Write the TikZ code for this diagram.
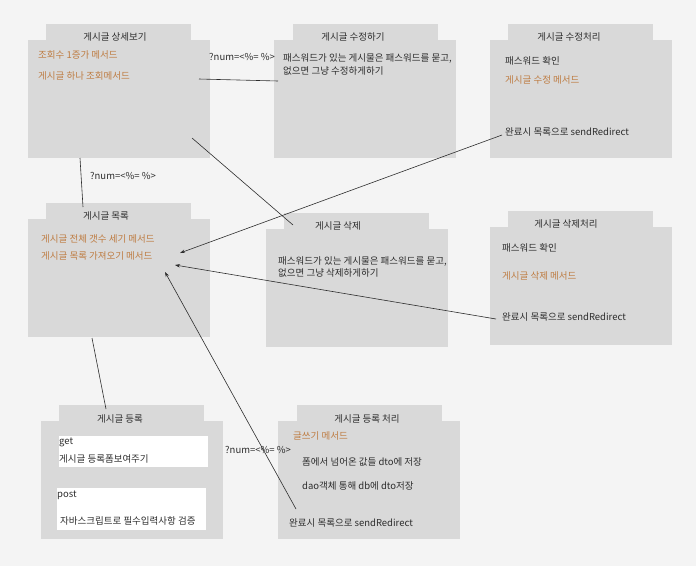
\documentclass[tikz,border=0pt]{standalone}
\usepackage{fontspec}
\setmainfont{Noto Sans CJK KR}
\usetikzlibrary{arrows.meta}
\definecolor{bg}{RGB}{244,244,244}
\definecolor{boxgray}{RGB}{217,217,217}
\definecolor{methodcol}{RGB}{190,124,66}
\definecolor{ink}{RGB}{45,45,45}

\begin{document}
\begin{tikzpicture}[x=1pt, y=-1pt,
    body/.style={fill=boxgray, anchor=north west, inner sep=0pt, minimum width=182pt, minimum height=118pt},
    tab/.style={fill=boxgray, anchor=north west, inner sep=0pt, minimum width=145pt, minimum height=16pt},
    note/.style={fill=white, anchor=north west, inner sep=0pt},
    title/.style={text=ink, inner sep=0pt, font=\fontsize{9.5}{11}\selectfont},
    item/.style={anchor=west, text=ink, inner sep=0pt, font=\fontsize{9.5}{11}\selectfont},
    method/.style={item, text=methodcol},
    param/.style={item, font=\fontsize{9.5}{11}\selectfont},
    link/.style={draw=ink, line width=0.6pt},
    back/.style={link, -{Stealth[length=5pt, width=3.5pt]}}]

  \fill[bg] (0,0) rectangle (696,566);
  \useasboundingbox (0,0) rectangle (696,566);

  % 상세보기
  \node[tab] (detailtab) at (46,24) {};
  \node[body] (detail) at (28,40) {};
  \node[title] (detailtitle) at (115,37) {게시글 상세보기};
  \node[method] (hitm) at (38,55) {조회수 1증가 메서드};
  \node[method] (onem) at (38,76) {게시글 하나 조회메서드};

  % 수정하기
  \node[tab] (edittab) at (293,24) {};
  \node[body] (edit) at (274,40) {};
  \node[title] (edittitle) at (353,37) {게시글 수정하기};
  \node[item] (editask) at (283,58) {패스워드가 있는 게시물은 패스워드를 묻고,};
  \node[item] (editelse) at (283,71) {없으면 그냥 수정하게하기};

  % 수정처리
  \node[tab] (editdotab) at (508,24) {};
  \node[body] (editdo) at (490,40) {};
  \node[title] (editdotitle) at (569,37) {게시글 수정처리};
  \node[item] (editpw) at (505,61) {패스워드 확인};
  \node[method] (editm) at (505,80) {게시글 수정 메서드};
  \node[item] (editdone) at (505,132) {완료시 목록으로 sendRedirect};

  % 목록
  \node[tab] (listtab) at (46,203) {};
  \node[body] (list) at (28,219) {};
  \node[title] (listtitle) at (106,216) {게시글 목록};
  \node[method] (countm) at (41,239) {게시글 전체 갯수 세기 메서드};
  \node[method] (listm) at (41,256) {게시글 목록 가져오기 메서드};

  % 삭제
  \node[tab] (deltab) at (284,213) {};
  \node[body] (del) at (266,229) {};
  \node[title] (deltitle) at (338,226) {게시글 삭제};
  \node[item] (delask) at (278,261) {패스워드가 있는 게시물은 패스워드를 묻고,};
  \node[item] (delelse) at (278,273) {없으면 그냥 삭제하게하기};

  % 삭제처리
  \node[tab] (deldotab) at (508,211) {};
  \node[body] (deldo) at (490,227) {};
  \node[title] (deldotitle) at (566,224) {게시글 삭제처리};
  \node[item] (delpw) at (502,248) {패스워드 확인};
  \node[method] (delm) at (502,276) {게시글 삭제 메서드};
  \node[item] (deldone) at (502,317) {완료시 목록으로 sendRedirect};

  % 등록
  \node[tab] (writetab) at (59,405) {};
  \node[body] (write) at (41,421) {};
  \node[title] (writetitle) at (120,419) {게시글 등록};
  \node[note, minimum width=149pt, minimum height=31pt] (getnote) at (59,436) {};
  \node[note, minimum width=149pt, minimum height=42pt] (postnote) at (57,488) {};
  \node[item] (getlbl) at (59,442) {get};
  \node[item] (getform) at (59,459) {게시글 등록폼보여주기};
  \node[item] (postlbl) at (57,495) {post};
  \node[item] (postcheck) at (60,521) {자바스크립트로 필수입력사항 검증};

  % 등록 처리
  \node[tab] (writedotab) at (297,405) {};
  \node[body] (writedo) at (278,421) {};
  \node[title] (writedotitle) at (367,419) {게시글 등록 처리};
  \node[method] (writem) at (293,436) {글쓰기 메서드};
  \node[item] (todto) at (302,462) {폼에서 넘어온 값들 dto에 저장};
  \node[item] (todb) at (302,486) {dao객체 통해 db에 dto저장};
  \node[item] (writedone) at (289,523) {완료시 목록으로 sendRedirect};

  % parameters
  \node[param] (numedit) at (209,57) {?num=<\%= \%>};
  \node[param] (numlist) at (90,176) {?num=<\%= \%>};
  \node[param] (numwrite) at (225,450) {?num=<\%= \%>};

  % connector ends
  \coordinate (d2e) at (199,79);
  \coordinate (e2d) at (278,81);
  \coordinate (d2l) at (80,158);
  \coordinate (l2d) at (83,207);
  \coordinate (d2x) at (192,138);
  \coordinate (x2d) at (293,225);
  \coordinate (l2w) at (92,338);
  \coordinate (w2l) at (106,409);
  \coordinate (fromedit) at (502,135);
  \coordinate (fromdel) at (496,319);
  \coordinate (fromwrite) at (296,509);
  \coordinate (intoa) at (180,253);
  \coordinate (intob) at (175,265);
  \coordinate (intoc) at (165,272);

  \draw[link] (d2e) -- (e2d);
  \draw[link] (d2l) -- (l2d);
  \draw[link] (d2x) -- (x2d);
  \draw[link] (l2w) -- (w2l);
  \draw[back] (fromedit) -- (intoa);
  \draw[back] (fromdel) -- (intob);
  \draw[back] (fromwrite) -- (intoc);
\end{tikzpicture}
\end{document}
